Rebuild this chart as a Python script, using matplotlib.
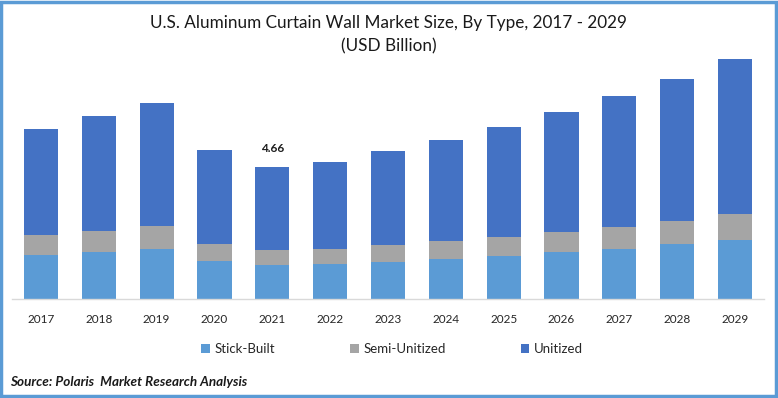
import matplotlib
matplotlib.use("Agg")
import matplotlib.pyplot as plt
from matplotlib.patches import Rectangle
import numpy as np

years = ["2017", "2018", "2019", "2020", "2021", "2022", "2023",
         "2024", "2025", "2026", "2027", "2028", "2029"]
stick_built = [1.55, 1.66, 1.76, 1.34, 1.20, 1.25, 1.32, 1.41, 1.53, 1.67, 1.76, 1.95, 2.09]
semi_unitized = [0.72, 0.74, 0.82, 0.61, 0.53, 0.53, 0.60, 0.64, 0.66, 0.70, 0.78, 0.81, 0.92]
unitized = [3.73, 4.06, 4.33, 3.31, 2.93, 3.06, 3.31, 3.57, 3.88, 4.24, 4.62, 5.00, 5.46]
series_names = ["Stick-Built", "Semi-Unitized", "Unitized"]
label_year = "2021"
label_text = "4.66"

colors = ["#5B9BD5", "#A5A5A5", "#4472C4"]
FONT = ["Lato", "DejaVu Sans"]
plt.rcParams["font.family"] = FONT

W, H = 778, 398
fig = plt.figure(figsize=(W / 100, H / 100), dpi=100)
ax = fig.add_axes([12 / W, (H - 299) / H, 752 / W, 250 / H])

x = np.arange(len(years))
sb = np.array(stick_built)
su = np.array(semi_unitized)
un = np.array(unitized)
bw = 0.59
ax.bar(x, sb, bw, color=colors[0], label=series_names[0], zorder=2)
ax.bar(x, su, bw, bottom=sb, color=colors[1], label=series_names[1], zorder=2)
ax.bar(x, un, bw, bottom=sb + su, color=colors[2], label=series_names[2], zorder=2)

ax.set_xlim(-0.5, len(years) - 0.5)
ax.set_ylim(0, 8.82)
ax.set_xticks(x)
ax.set_xticklabels(years, fontsize=8.5, color="#262626")
ax.tick_params(axis="x", length=0, pad=11)
ax.set_yticks([])
for s in ["top", "right", "left"]:
    ax.spines[s].set_visible(False)
ax.spines["bottom"].set_color("#D9D9D9")
ax.spines["bottom"].set_linewidth(1.0)

i = years.index(label_year)
total = sb[i] + su[i] + un[i]
ax.annotate(label_text, (x[i], total), xytext=(0, 9), textcoords="offset points",
            ha="center", va="bottom", fontsize=8.5, fontweight="bold", color="#1a1a1a")

fig.text(389 / W, 1 - 23 / H, "U.S. Aluminum Curtain Wall Market Size, By Type, 2017 - 2029",
         ha="center", va="center", fontsize=12.3, color="#1a1a1a")
fig.text(389 / W, 1 - 46 / H, "(USD Billion)", ha="center", va="center",
         fontsize=12.3, color="#1a1a1a")

leg = fig.legend(loc="center", bbox_to_anchor=(392 / W, 1 - 349 / H), ncol=3,
                 frameon=False, fontsize=9.5, handlelength=0.65, handleheight=0.65,
                 handletextpad=0.35, columnspacing=5.7)
for t in leg.get_texts():
    t.set_color("#262626")

fig.text(10 / W, 1 - 382 / H, "Source: Polaris  Market Research Analysis",
         ha="left", va="center", fontsize=9.7, fontweight="bold", style="italic",
         color="#1a1a1a")

fig.patches.append(Rectangle((0.0015, 0.004), 0.9965, 0.992, transform=fig.transFigure,
                             fill=False, edgecolor="#5B9BD5", linewidth=2.5))

fig.savefig("out.png", dpi=100)
